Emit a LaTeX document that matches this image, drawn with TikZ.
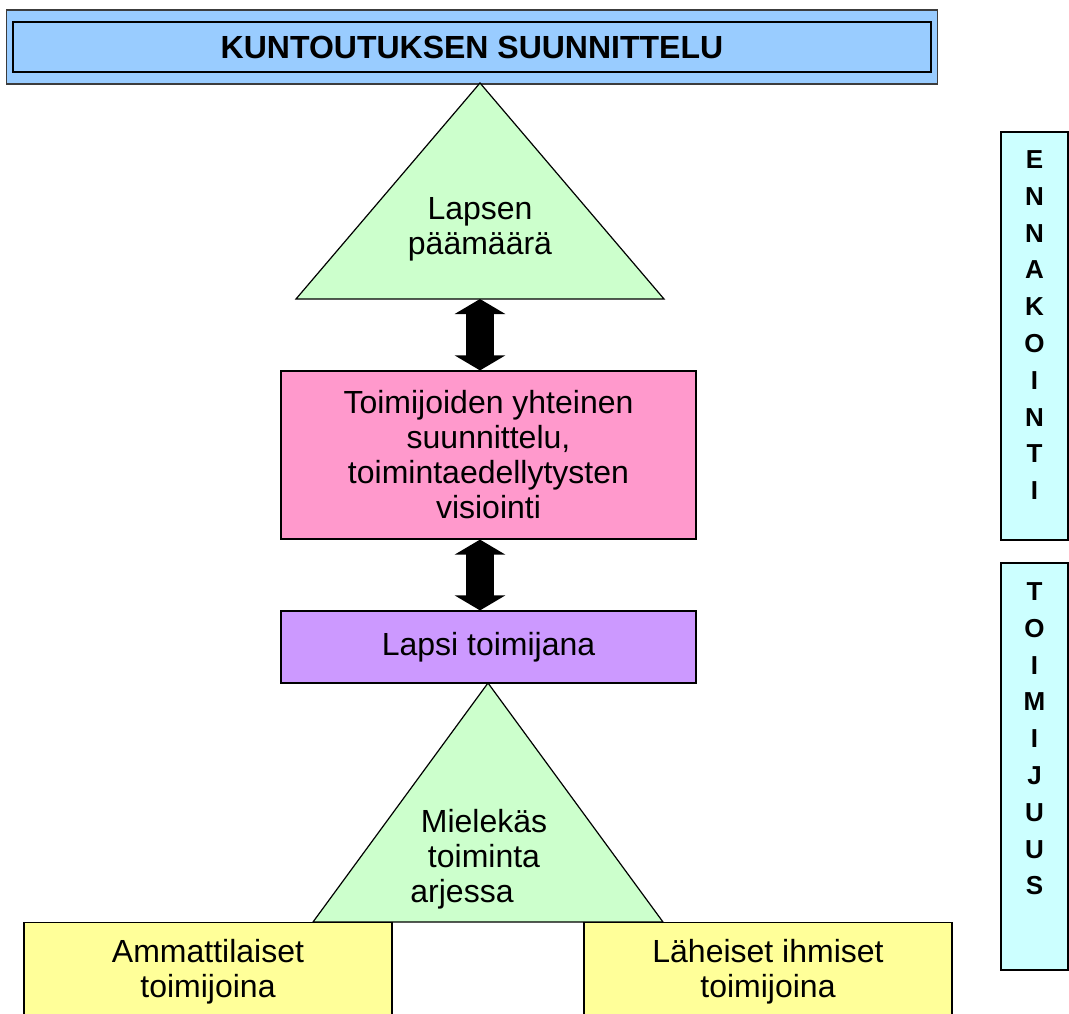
\documentclass[tikz,border=0pt]{standalone}
\usepackage{fontspec}
\setmainfont{Liberation Sans}
\usetikzlibrary{arrows.meta, positioning, fit, backgrounds}
\definecolor{titleblue}{RGB}{153, 204, 255}
\definecolor{goalgreen}{RGB}{204, 255, 204}
\definecolor{planpink}{RGB}{255, 153, 204}
\definecolor{childlilac}{RGB}{204, 153, 255}
\definecolor{actoryellow}{RGB}{255, 255, 153}
\definecolor{sidecyan}{RGB}{204, 255, 255}
\definecolor{rimgray}{RGB}{60, 60, 60}

\begin{document}
\begin{tikzpicture}[
    x=1pt, y=-1pt,
    txt/.style     = {font=\fontsize{32}{35}\selectfont, align=center, inner sep=0pt},
    hdr/.style     = {font=\fontsize{32}{35}\selectfont\bfseries, inner sep=0pt},
    vtxt/.style    = {font=\fontsize{26}{36.8}\selectfont\bfseries, align=center, inner sep=0pt},
    box/.style     = {draw=black, line width=1.2pt, inner sep=0pt},
    tri/.style     = {draw=black, line width=1.2pt, fill=goalgreen},
    dblarr/.style  = {{Triangle[length=15pt, width=50pt]}-{Triangle[length=15pt, width=50pt]}, line width=28pt, black},
  ]
    \clip (0,0) rectangle (1069,1013);
    \def\ax{480}   % x of the two arrows

    % ── Title ──
    \node[hdr, box, line width=2pt, minimum width=918, minimum height=50] (title) at (472,47) {KUNTOUTUKSEN SUUNNITTELU};
    \begin{scope}[on background layer]
      \node[fill=titleblue, draw=rimgray, line width=1.5pt, inner xsep=5.5pt, inner ysep=11pt, fit=(title)] {};
    \end{scope}

    % ── Goal triangle ──
    \draw[tri] (480,83) -- (664,299) -- (296,299) -- cycle;
    \coordinate (goalbase) at (\ax,299);
    \node[txt] (goal) at (480,229.5) {Lapsen\\päämäärä};

    % ── Joint planning / child ──
    \node[box, txt, fill=planpink, minimum width=415, minimum height=168] (plan) at (488.5,455)
      {Toimijoiden yhteinen\\suunnittelu,\\toimintaedellytysten\\visiointi};
    \node[box, txt, fill=childlilac, minimum width=415, minimum height=72] (child) at (488.5,647) {Lapsi toimijana};

    % ── Everyday triangle ──
    \draw[tri] (488,683) -- (663,922) -- (313,922) -- cycle;
    \node[txt] (daily) at (484,859) {Mielekäs\\toiminta\\arjessa\rule{44pt}{0pt}};

    % ── Actors ──
    \node[box, txt, fill=actoryellow, minimum width=368, minimum height=120, anchor=north] (pros) at (208,922) {};
    \node[txt] (prostxt) at (208,972) {Ammattilaiset\\toimijoina};
    \node[box, txt, fill=actoryellow, minimum width=368, minimum height=120, anchor=north] (close) at (768,922) {};
    \node[txt] (closetxt) at (768,972) {Läheiset ihmiset\\toimijoina};

    % ── Side columns ──
    \node[box, fill=sidecyan, minimum width=67, minimum height=408] (ennbox) at (1034.5,336) {};
    \node[vtxt, below=19pt of ennbox.north] (enn) {E\\N\\N\\A\\K\\O\\I\\N\\T\\I};
    \node[box, fill=sidecyan, minimum width=67, minimum height=407] (toibox) at (1034.5,766.5) {};
    \node[vtxt, below=20pt of toibox.north] (toi) {T\\O\\I\\M\\I\\J\\U\\U\\S};

    % ── Arrows ──
    \draw[dblarr] (goalbase) -- (goalbase |- plan.north);
    \draw[dblarr] (plan.south -| goalbase) -- (child.north -| goalbase);

  \end{tikzpicture}
\end{document}
